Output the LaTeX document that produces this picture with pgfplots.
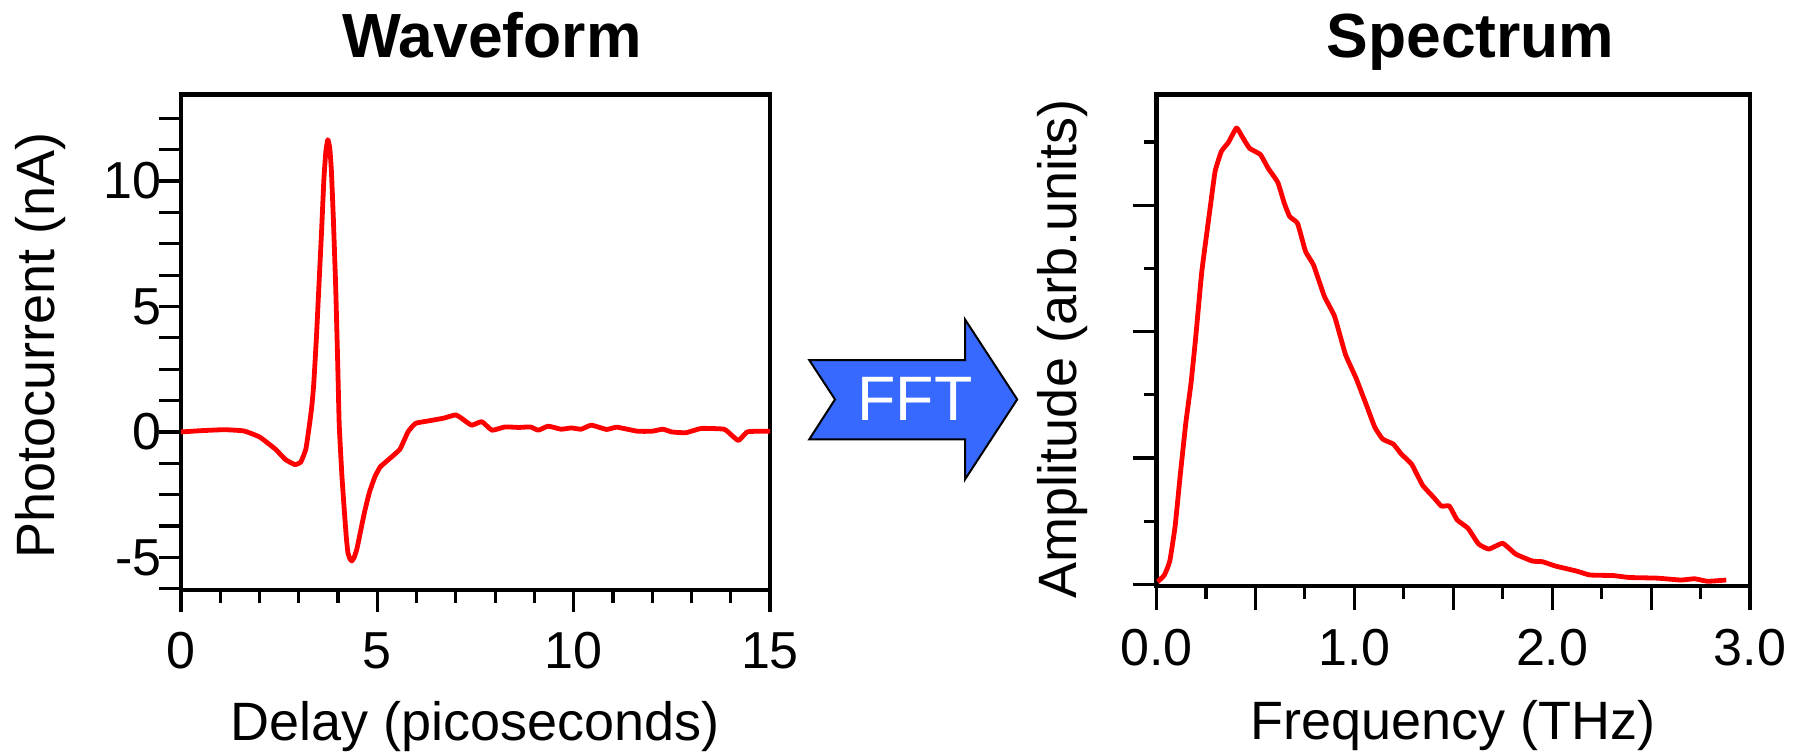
\documentclass[border=0pt]{standalone}
\usepackage{pgfplots}
\pgfplotsset{compat=1.18}
\usepackage{fontspec}
\setmainfont{Liberation Sans}
\definecolor{fftblue}{RGB}{55,105,255}
\begin{document}
\begin{tikzpicture}
\path[use as bounding box] (0,0) rectangle (452pt,188.25pt);
\pgfplotsset{
  common/.style={
    scale only axis,
    axis line style={line width=1.1pt},
    tick align=outside,
    xtick pos=bottom, ytick pos=left,
    tick style={line width=0.8pt, black},
    tick label style={font=\fontsize{13}{15}\selectfont, black},
    label style={font=\fontsize{13.5}{16}\selectfont},
    every axis title shift=0pt,
    title style={font=\fontsize{15.6}{18}\selectfont\bfseries, anchor=base},
    xticklabel style={anchor=base, yshift=-14pt},
    yticklabel style={anchor=east, inner sep=0pt, xshift=0.9pt},
  }
}
% ---------- Waveform ----------
\begin{axis}[common,
  at={(45.25pt,40.75pt)}, anchor=south west,
  width=147.25pt, height=123.875pt,
  xmin=0, xmax=15, ymin=-6.3, ymax=13.45,
  xtick={0,5,10,15}, xticklabels={0,5,10,15},
  minor xtick={1,2,3,4,6,7,8,9,11,12,13,14},
  ytick={-6.25,-5,-3.75,-2.5,-1.25,0,1.25,2.5,3.75,5,6.25,7.5,8.75,10,11.25,12.5},
  yticklabels={,-5,,,,0,,,,5,,,,10,,},
  major tick length=5.5pt, minor tick length=3.25pt,
  title={Waveform},
  title style={at={(axis description cs:0.528,1.074)}},
  xlabel={Delay (picoseconds)},
  xlabel style={at={(axis description cs:0.5,-0.303)}, anchor=base},
  ylabel={Photocurrent (nA)},
  ylabel style={at={(axis description cs:-0.214,0.494)}, anchor=base},
]
\addplot[red, line width=1.2pt, line join=round, smooth, tension=0.25] coordinates {
(0,0) (0.5,0.05) (1.1,0.09) (1.6,0.04) (2.0,-0.2) (2.4,-0.68) (2.66,-1.1)
(2.9,-1.3) (3.05,-1.2) (3.18,-0.68) (3.27,0.27) (3.33,1.0) (3.38,1.9)
(3.45,3.8) (3.51,5.75) (3.58,8.0) (3.64,10.1) (3.69,11.2) (3.74,11.65)
(3.79,11.3) (3.83,10.4) (3.88,8.5) (3.94,5.75) (3.99,2.8) (4.03,0.27)
(4.1,-1.8) (4.16,-3.15) (4.21,-4.2) (4.25,-4.8) (4.3,-5.05) (4.35,-5.14)
(4.41,-5.0) (4.48,-4.66) (4.58,-3.9) (4.68,-3.15) (4.8,-2.4) (4.94,-1.78)
(5.07,-1.4) (5.19,-1.23) (5.39,-0.96) (5.58,-0.68) (5.78,0) (5.97,0.34)
(6.3,0.44) (6.69,0.55) (6.99,0.68) (7.14,0.55) (7.4,0.27) (7.66,0.41)
(7.92,0.07) (8.25,0.2) (8.6,0.18) (8.9,0.2) (9.1,0.07) (9.35,0.23)
(9.68,0.11) (9.94,0.16) (10.19,0.11) (10.45,0.27) (10.84,0.1) (11.1,0.19)
(11.62,0.03) (12.0,0.03) (12.27,0.11) (12.5,0.0) (12.86,-0.03) (13.25,0.14)
(13.83,0.11) (14.03,-0.14) (14.2,-0.34) (14.42,0.0) (14.75,0.03) (15,0.03)
};
\end{axis}
% ---------- Spectrum ----------
\begin{axis}[common,
  at={(289.125pt,41.825pt)}, anchor=south west,
  width=148.375pt, height=122.8pt,
  xmin=0, xmax=3, ymin=-0.02, ymax=7.75,
  xtick={0,0.5,1,1.5,2,2.5,3}, xticklabels={0.0,,1.0,,2.0,,3.0},
  minor xtick={0.25,0.75,1.25,1.75,2.25,2.75},
  ytick={0,2,4,6}, yticklabels={},
  minor ytick={1,3,5,7},
  major tick length=6pt, minor tick length=3.25pt,
  title={Spectrum},
  title style={at={(axis description cs:0.529,1.075)}},
  xlabel={Frequency (THz)},
  xlabel style={at={(axis description cs:0.5,-0.314)}, anchor=base},
  ylabel={Amplitude (arb.units)},
  ylabel style={at={(axis description cs:-0.1356,0.482)}, anchor=base},
]
\addplot[red, line width=1.2pt, line join=round, smooth, tension=0.25] coordinates {
(0.005,0.04) (0.04,0.15) (0.067,0.37) (0.094,0.92) (0.12,1.73) (0.148,2.55)
(0.175,3.2) (0.2,3.97) (0.229,4.95) (0.27,5.93) (0.296,6.53) (0.328,6.85)
(0.363,6.99) (0.404,7.22) (0.43,7.1) (0.47,6.9) (0.525,6.8) (0.565,6.58)
(0.613,6.36) (0.646,6.03) (0.673,5.82) (0.713,5.71) (0.753,5.27) (0.794,5.05)
(0.848,4.56) (0.9,4.24) (0.955,3.64) (1.009,3.26) (1.063,2.82) (1.103,2.49)
(1.143,2.3) (1.197,2.22) (1.238,2.06) (1.29,1.9) (1.345,1.57) (1.4,1.38)
(1.44,1.24) (1.48,1.24) (1.52,1.02) (1.574,0.89) (1.628,0.64) (1.68,0.56)
(1.75,0.65) (1.816,0.48) (1.9,0.37) (1.95,0.36) (2.018,0.29) (2.125,0.21)
(2.19,0.15) (2.31,0.14) (2.39,0.11) (2.53,0.1) (2.65,0.07) (2.72,0.09)
(2.785,0.05) (2.88,0.07)
};
\end{axis}
% ---------- FFT arrow ----------
\draw[fill=fftblue, draw=black, line width=0.5pt, line join=miter]
  (202.3pt,98.25pt) -- (208.75pt,88.4pt) -- (202.3pt,78.4pt) -- (241.25pt,78.4pt)
  -- (241.25pt,68.4pt) -- (254.3pt,88.4pt) -- (241.25pt,108.4pt) -- (241.25pt,98.25pt) -- cycle;
\node[text=white, font=\fontsize{15.7}{18}\selectfont, inner sep=0pt] at (228.75pt,88.5pt) {FFT};
\end{tikzpicture}
\end{document}
